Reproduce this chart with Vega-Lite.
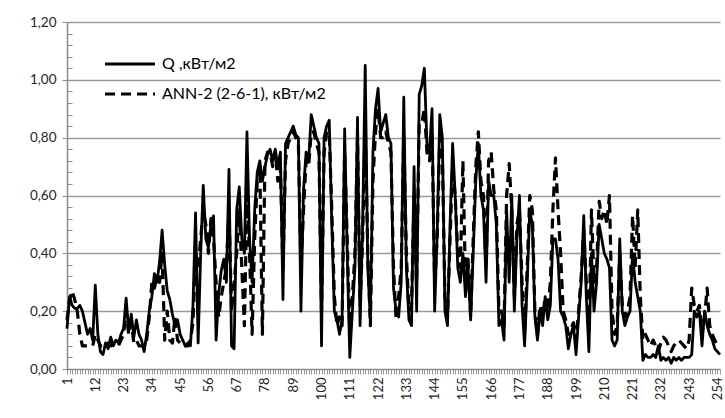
{
"$schema": "https://vega.github.io/schema/vega-lite/v6.json",
"width": 653, "height": 347,
"autosize": {"type": "none"},
"padding": {"left": 67, "top": 22, "right": 5, "bottom": 49},
"background": "white",
"config": {"view": {"stroke": null}, "font": "Lato"},
"data": {"values": [
{"i":1,"q":0.14,"a":0.17},{"i":2,"q":0.25,"a":0.24},{"i":3,"q":0.22,"a":0.27},{"i":4,"q":0.21,"a":0.24},{"i":5,"q":0.21,"a":0.2},{"i":6,"q":0.22,"a":0.12},{"i":7,"q":0.2,"a":0.08},{"i":8,"q":0.16,"a":0.08},{"i":9,"q":0.12,"a":0.08},{"i":10,"q":0.14,"a":0.08},
{"i":11,"q":0.1,"a":0.08},{"i":12,"q":0.29,"a":0.12},{"i":13,"q":0.12,"a":0.1},{"i":14,"q":0.06,"a":0.08},{"i":15,"q":0.05,"a":0.08},{"i":16,"q":0.09,"a":0.08},{"i":17,"q":0.07,"a":0.09},{"i":18,"q":0.11,"a":0.08},{"i":19,"q":0.08,"a":0.09},{"i":20,"q":0.1,"a":0.09},
{"i":21,"q":0.09,"a":0.08},{"i":22,"q":0.12,"a":0.1},{"i":23,"q":0.14,"a":0.12},{"i":24,"q":0.245,"a":0.2},{"i":25,"q":0.13,"a":0.12},{"i":26,"q":0.19,"a":0.16},{"i":27,"q":0.11,"a":0.09},{"i":28,"q":0.17,"a":0.1},{"i":29,"q":0.12,"a":0.08},{"i":30,"q":0.1,"a":0.08},
{"i":31,"q":0.06,"a":0.08},{"i":32,"q":0.12,"a":0.1},{"i":33,"q":0.2,"a":0.18},{"i":34,"q":0.25,"a":0.3},{"i":35,"q":0.33,"a":0.28},{"i":36,"q":0.3,"a":0.32},{"i":37,"q":0.37,"a":0.3},{"i":38,"q":0.48,"a":0.4},{"i":39,"q":0.36,"a":0.1},{"i":40,"q":0.27,"a":0.2},
{"i":41,"q":0.24,"a":0.1},{"i":42,"q":0.19,"a":0.09},{"i":43,"q":0.15,"a":0.18},{"i":44,"q":0.17,"a":0.1},{"i":45,"q":0.12,"a":0.09},{"i":46,"q":0.1,"a":0.08},{"i":47,"q":0.08,"a":0.08},{"i":48,"q":0.09,"a":0.08},{"i":49,"q":0.08,"a":0.1},{"i":50,"q":0.22,"a":0.16},
{"i":51,"q":0.54,"a":0.4},{"i":52,"q":0.09,"a":0.35},{"i":53,"q":0.4,"a":0.45},{"i":54,"q":0.635,"a":0.55},{"i":55,"q":0.45,"a":0.5},{"i":56,"q":0.42,"a":0.4},{"i":57,"q":0.5,"a":0.52},{"i":58,"q":0.53,"a":0.45},{"i":59,"q":0.1,"a":0.3},{"i":60,"q":0.26,"a":0.18},
{"i":61,"q":0.34,"a":0.25},{"i":62,"q":0.38,"a":0.3},{"i":63,"q":0.3,"a":0.35},{"i":64,"q":0.69,"a":0.55},{"i":65,"q":0.08,"a":0.2},{"i":66,"q":0.07,"a":0.3},{"i":67,"q":0.55,"a":0.4},{"i":68,"q":0.63,"a":0.55},{"i":69,"q":0.45,"a":0.35},{"i":70,"q":0.4,"a":0.15},
{"i":71,"q":0.82,"a":0.6},{"i":72,"q":0.45,"a":0.4},{"i":73,"q":0.3,"a":0.12},{"i":74,"q":0.55,"a":0.45},{"i":75,"q":0.68,"a":0.65},{"i":76,"q":0.72,"a":0.7},{"i":77,"q":0.65,"a":0.12},{"i":78,"q":0.7,"a":0.72},{"i":79,"q":0.74,"a":0.75},{"i":80,"q":0.76,"a":0.75},
{"i":81,"q":0.72,"a":0.7},{"i":82,"q":0.76,"a":0.75},{"i":83,"q":0.7,"a":0.65},{"i":84,"q":0.75,"a":0.7},{"i":85,"q":0.24,"a":0.35},{"i":86,"q":0.78,"a":0.72},{"i":87,"q":0.8,"a":0.78},{"i":88,"q":0.82,"a":0.8},{"i":89,"q":0.84,"a":0.82},{"i":90,"q":0.81,"a":0.8},
{"i":91,"q":0.8,"a":0.78},{"i":92,"q":0.2,"a":0.35},{"i":93,"q":0.62,"a":0.55},{"i":94,"q":0.75,"a":0.72},{"i":95,"q":0.72,"a":0.7},{"i":96,"q":0.88,"a":0.82},{"i":97,"q":0.84,"a":0.82},{"i":98,"q":0.8,"a":0.78},{"i":99,"q":0.78,"a":0.75},{"i":100,"q":0.08,"a":0.2},
{"i":101,"q":0.8,"a":0.75},{"i":102,"q":0.84,"a":0.82},{"i":103,"q":0.86,"a":0.82},{"i":104,"q":0.5,"a":0.55},{"i":105,"q":0.2,"a":0.25},{"i":106,"q":0.17,"a":0.15},{"i":107,"q":0.12,"a":0.18},{"i":108,"q":0.17,"a":0.15},{"i":109,"q":0.83,"a":0.75},{"i":110,"q":0.4,"a":0.45},
{"i":111,"q":0.04,"a":0.12},{"i":112,"q":0.2,"a":0.25},{"i":113,"q":0.35,"a":0.4},{"i":114,"q":0.87,"a":0.8},{"i":115,"q":0.15,"a":0.22},{"i":116,"q":0.5,"a":0.45},{"i":117,"q":1.05,"a":0.85},{"i":118,"q":0.35,"a":0.4},{"i":119,"q":0.17,"a":0.15},{"i":120,"q":0.75,"a":0.65},
{"i":121,"q":0.9,"a":0.82},{"i":122,"q":0.97,"a":0.9},{"i":123,"q":0.82,"a":0.8},{"i":124,"q":0.85,"a":0.8},{"i":125,"q":0.88,"a":0.82},{"i":126,"q":0.8,"a":0.78},{"i":127,"q":0.78,"a":0.75},{"i":128,"q":0.28,"a":0.35},{"i":129,"q":0.2,"a":0.17},{"i":130,"q":0.18,"a":0.25},
{"i":131,"q":0.3,"a":0.35},{"i":132,"q":0.94,"a":0.8},{"i":133,"q":0.35,"a":0.4},{"i":134,"q":0.17,"a":0.2},{"i":135,"q":0.15,"a":0.22},{"i":136,"q":0.7,"a":0.6},{"i":137,"q":0.2,"a":0.3},{"i":138,"q":0.95,"a":0.85},{"i":139,"q":0.98,"a":0.85},{"i":140,"q":1.04,"a":0.9},
{"i":141,"q":0.78,"a":0.75},{"i":142,"q":0.75,"a":0.72},{"i":143,"q":0.9,"a":0.82},{"i":144,"q":0.2,"a":0.3},{"i":145,"q":0.47,"a":0.45},{"i":146,"q":0.88,"a":0.8},{"i":147,"q":0.8,"a":0.75},{"i":148,"q":0.2,"a":0.25},{"i":149,"q":0.15,"a":0.18},{"i":150,"q":0.5,"a":0.45},
{"i":151,"q":0.78,"a":0.7},{"i":152,"q":0.6,"a":0.6},{"i":153,"q":0.35,"a":0.4},{"i":154,"q":0.3,"a":0.35},{"i":155,"q":0.4,"a":0.72},{"i":156,"q":0.25,"a":0.3},{"i":157,"q":0.35,"a":0.38},{"i":158,"q":0.17,"a":0.18},{"i":159,"q":0.4,"a":0.45},{"i":160,"q":0.65,"a":0.7},
{"i":161,"q":0.78,"a":0.82},{"i":162,"q":0.6,"a":0.65},{"i":163,"q":0.55,"a":0.6},{"i":164,"q":0.3,"a":0.35},{"i":165,"q":0.65,"a":0.72},{"i":166,"q":0.6,"a":0.75},{"i":167,"q":0.6,"a":0.62},{"i":168,"q":0.5,"a":0.55},{"i":169,"q":0.15,"a":0.2},{"i":170,"q":0.17,"a":0.2},
{"i":171,"q":0.1,"a":0.15},{"i":172,"q":0.55,"a":0.6},{"i":173,"q":0.3,"a":0.71},{"i":174,"q":0.6,"a":0.55},{"i":175,"q":0.2,"a":0.25},{"i":176,"q":0.45,"a":0.5},{"i":177,"q":0.6,"a":0.55},{"i":178,"q":0.22,"a":0.3},{"i":179,"q":0.08,"a":0.12},{"i":180,"q":0.3,"a":0.35},
{"i":181,"q":0.55,"a":0.6},{"i":182,"q":0.5,"a":0.55},{"i":183,"q":0.18,"a":0.2},{"i":184,"q":0.1,"a":0.12},{"i":185,"q":0.2,"a":0.22},{"i":186,"q":0.15,"a":0.18},{"i":187,"q":0.25,"a":0.25},{"i":188,"q":0.17,"a":0.2},{"i":189,"q":0.22,"a":0.3},{"i":190,"q":0.45,"a":0.55},
{"i":191,"q":0.45,"a":0.73},{"i":192,"q":0.38,"a":0.55},{"i":193,"q":0.2,"a":0.4},{"i":194,"q":0.18,"a":0.2},{"i":195,"q":0.15,"a":0.17},{"i":196,"q":0.07,"a":0.12},{"i":197,"q":0.12,"a":0.14},{"i":198,"q":0.15,"a":0.16},{"i":199,"q":0.05,"a":0.1},{"i":200,"q":0.18,"a":0.2},
{"i":201,"q":0.3,"a":0.32},{"i":202,"q":0.53,"a":0.48},{"i":203,"q":0.25,"a":0.3},{"i":204,"q":0.06,"a":0.12},{"i":205,"q":0.4,"a":0.55},{"i":206,"q":0.2,"a":0.3},{"i":207,"q":0.3,"a":0.35},{"i":208,"q":0.5,"a":0.58},{"i":209,"q":0.45,"a":0.52},{"i":210,"q":0.4,"a":0.55},
{"i":211,"q":0.38,"a":0.5},{"i":212,"q":0.35,"a":0.6},{"i":213,"q":0.1,"a":0.2},{"i":214,"q":0.08,"a":0.12},{"i":215,"q":0.1,"a":0.15},{"i":216,"q":0.45,"a":0.4},{"i":217,"q":0.2,"a":0.22},{"i":218,"q":0.15,"a":0.18},{"i":219,"q":0.18,"a":0.2},{"i":220,"q":0.2,"a":0.25},
{"i":221,"q":0.4,"a":0.53},{"i":222,"q":0.3,"a":0.35},{"i":223,"q":0.25,"a":0.55},{"i":224,"q":0.2,"a":0.25},{"i":225,"q":0.03,"a":0.1},{"i":226,"q":0.05,"a":0.12},{"i":227,"q":0.04,"a":0.1},{"i":228,"q":0.04,"a":0.08},{"i":229,"q":0.05,"a":0.1},{"i":230,"q":0.04,"a":0.08},
{"i":231,"q":0.08,"a":0.06},{"i":232,"q":0.03,"a":0.09},{"i":233,"q":0.04,"a":0.11},{"i":234,"q":0.03,"a":0.1},{"i":235,"q":0.04,"a":0.08},{"i":236,"q":0.02,"a":0.06},{"i":237,"q":0.04,"a":0.08},{"i":238,"q":0.03,"a":0.09},{"i":239,"q":0.04,"a":0.1},{"i":240,"q":0.03,"a":0.09},
{"i":241,"q":0.04,"a":0.08},{"i":242,"q":0.04,"a":0.07},{"i":243,"q":0.04,"a":0.1},{"i":244,"q":0.05,"a":0.28},{"i":245,"q":0.2,"a":0.22},{"i":246,"q":0.18,"a":0.2},{"i":247,"q":0.2,"a":0.22},{"i":248,"q":0.08,"a":0.12},{"i":249,"q":0.2,"a":0.18},{"i":250,"q":0.15,"a":0.28},
{"i":251,"q":0.12,"a":0.15},{"i":252,"q":0.1,"a":0.12},{"i":253,"q":0.07,"a":0.1},{"i":254,"q":0.06,"a":0.08},{"i":255,"q":0.05,"a":0.08}
]},
"transform": [{"fold": ["q", "a"], "as": ["series", "value"]}],
"mark": {"type": "line", "color": "black", "strokeJoin": "round"},
"encoding": {
  "x": {"field": "i", "type": "quantitative",
    "scale": {"domain": [1, 255], "nice": false, "zero": false},
    "axis": {"values": [1,2,3,4,5,6,7,8,9,10,11,12,13,14,15,16,17,18,19,20,21,22,23,24,25,26,27,28,29,30,31,32,33,34,35,36,37,38,39,40,41,42,43,44,45,46,47,48,49,50,51,52,53,54,55,56,57,58,59,60,61,62,63,64,65,66,67,68,69,70,71,72,73,74,75,76,77,78,79,80,81,82,83,84,85,86,87,88,89,90,91,92,93,94,95,96,97,98,99,100,101,102,103,104,105,106,107,108,109,110,111,112,113,114,115,116,117,118,119,120,121,122,123,124,125,126,127,128,129,130,131,132,133,134,135,136,137,138,139,140,141,142,143,144,145,146,147,148,149,150,151,152,153,154,155,156,157,158,159,160,161,162,163,164,165,166,167,168,169,170,171,172,173,174,175,176,177,178,179,180,181,182,183,184,185,186,187,188,189,190,191,192,193,194,195,196,197,198,199,200,201,202,203,204,205,206,207,208,209,210,211,212,213,214,215,216,217,218,219,220,221,222,223,224,225,226,227,228,229,230,231,232,233,234,235,236,237,238,239,240,241,242,243,244,245,246,247,248,249,250,251,252,253,254,255],
      "title": null, "grid": false,
      "labelAngle": -90,
      "labelOverlap": false,
      "labelOpacity": {"condition": {"test": "(datum.value - 1) % 11 == 0", "value": 1}, "value": 0},
      "labelFontSize": 13, "labelFont": "Lato", "labelColor": "#262626", "labelPadding": 3,
      "ticks": true, "tickSize": 5, "tickColor": "#9a9a9a", "tickWidth": 1,
      "domainColor": "#8c8c8c", "domainWidth": 1.5}},
  "y": {"field": "value", "type": "quantitative",
    "scale": {"domain": [0, 1.2], "nice": false},
    "axis": {"title": null,
      "values": [0,0.04,0.08,0.12,0.16,0.2,0.24,0.28,0.32,0.36,0.4,0.44,0.48,0.52,0.56,0.6,0.64,0.68,0.72,0.76,0.8,0.84,0.88,0.92,0.96,1,1.04,1.08,1.12,1.16,1.2],
      "labelExpr": "abs(datum.value*5 - round(datum.value*5)) < 0.001 ? replace(format(datum.value, '.2f'), '.', ',') : ''",
      "labelOverlap": false, "labelFontSize": 13.5, "labelFont": "Lato", "labelColor": "#262626", "labelPadding": 6,
      "grid": true, "gridColor": "#9a9a9a", "gridWidth": 1.5,
      "gridOpacity": {"condition": {"test": "abs(datum.value*5 - round(datum.value*5)) < 0.001 && datum.value > 0", "value": 1}, "value": 0},
      "tickSize": {"condition": {"test": "abs(datum.value*5 - round(datum.value*5)) < 0.001", "value": 5}, "value": -5},
      "tickColor": "#8c8c8c", "tickWidth": 1,
      "domainColor": "#8c8c8c", "domainWidth": 1.5}},
  "strokeDash": {"field": "series", "type": "nominal",
    "scale": {"domain": ["q", "a"], "range": [[1, 0], [10, 6]]},
    "legend": {"title": null, "orient": "none", "legendX": 36, "legendY": 27,
      "symbolType": "stroke", "symbolSize": 2500, "symbolStrokeWidth": 3, "symbolStrokeColor": "black",
      "labelFontSize": 16, "labelFont": "Lato", "labelColor": "black", "labelOffset": 5, "labelLimit": 400,
      "clipHeight": 30, "rowPadding": 0, "padding": 0,
      "labelExpr": "datum.label == 'q' ? 'Q ,кВт/м2' : 'ANN-2 (2-6-1), кВт/м2'"}},
  "strokeWidth": {"field": "series", "type": "nominal",
    "scale": {"domain": ["q", "a"], "range": [2.8, 3.2]}, "legend": null}
}
}
